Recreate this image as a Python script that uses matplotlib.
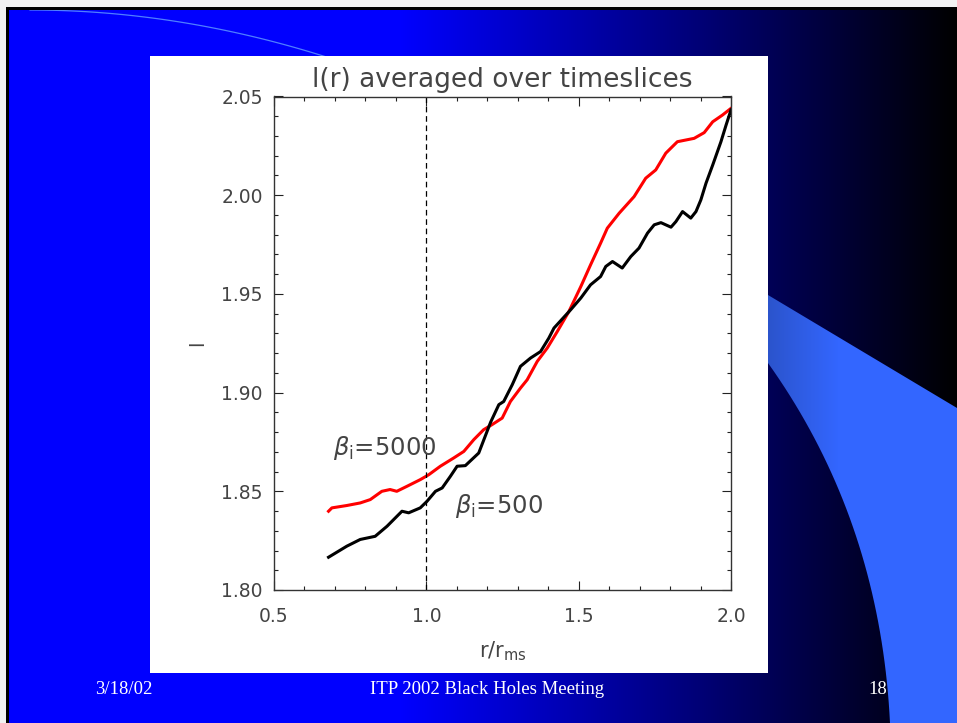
import matplotlib
matplotlib.use('Agg')
import matplotlib.pyplot as plt
import numpy as np
from matplotlib.patches import Rectangle, Polygon
from matplotlib.ticker import MultipleLocator

# data: l(r) for the two runs
r_500 = [0.679, 0.739, 0.783, 0.832, 0.871, 0.920, 0.942, 0.980, 1.002, 1.030,
         1.052, 1.079, 1.101, 1.128, 1.172, 1.211, 1.238, 1.254, 1.282, 1.309,
         1.342, 1.375, 1.402, 1.419, 1.474, 1.507, 1.539, 1.572, 1.589, 1.611,
         1.643, 1.671, 1.698, 1.726, 1.748, 1.770, 1.803, 1.819, 1.841, 1.868,
         1.885, 1.901, 1.918, 1.940, 1.967, 1.984, 2.000]
l_500 = [1.8166, 1.8222, 1.8256, 1.8272, 1.8323, 1.8399, 1.8391, 1.8416, 1.8449, 1.8500,
         1.8517, 1.8576, 1.8627, 1.8630, 1.8694, 1.8850, 1.8939, 1.8955, 1.9040, 1.9133,
         1.9175, 1.9208, 1.9276, 1.9327, 1.9420, 1.9479, 1.9546, 1.9588, 1.9639, 1.9664,
         1.9631, 1.9689, 1.9732, 1.9808, 1.9850, 1.9861, 1.9838, 1.9866, 1.9917, 1.9884,
         1.9917, 1.9976, 2.0061, 2.0153, 2.0271, 2.0356, 2.0432]

r_5000 = [0.679, 0.690, 0.739, 0.783, 0.816, 0.854, 0.881, 0.903, 0.936, 0.980,
          1.008, 1.046, 1.090, 1.123, 1.156, 1.188, 1.216, 1.249, 1.276, 1.309,
          1.331, 1.364, 1.397, 1.430, 1.468, 1.507, 1.539, 1.572, 1.594, 1.633,
          1.682, 1.720, 1.753, 1.786, 1.824, 1.879, 1.912, 1.940, 1.972, 2.000]
l_5000 = [1.8399, 1.8416, 1.8428, 1.8441, 1.8458, 1.8500, 1.8509, 1.8500, 1.8525, 1.8559,
          1.8584, 1.8627, 1.8669, 1.8702, 1.8762, 1.8812, 1.8838, 1.8871, 1.8955, 1.9023,
          1.9065, 1.9158, 1.9226, 1.9310, 1.9411, 1.9537, 1.9647, 1.9757, 1.9833, 1.9909,
          1.9993, 2.0086, 2.0128, 2.0213, 2.0271, 2.0288, 2.0317, 2.0372, 2.0406, 2.0440]

x_ticks = [0.5, 1.0, 1.5, 2.0]
y_ticks = [1.80, 1.85, 1.90, 1.95, 2.00, 2.05]

W, H = 957, 723
fig = plt.figure(figsize=(W / 100, H / 100), dpi=100)

# --- slide background (pixel coordinates) ---
bg = fig.add_axes([0, 0, 1, 1])
bg.set_xlim(0, W)
bg.set_ylim(H, 0)
bg.axis('off')

xs = np.arange(W)
blue = np.clip((W - xs) / (W - 400), 0, 1)
grad = np.zeros((1, W, 3))
grad[0, :, 2] = blue
bg.imshow(grad, extent=[0, W, H, 0], aspect='auto', zorder=0)

# light blue wedge on the right
t = np.linspace(0, 1, 40)
p0, c, p2 = np.array([768, 363]), np.array([880, 520]), np.array([890, 723])
curve = ((1 - t) ** 2)[:, None] * p0 + (2 * (1 - t) * t)[:, None] * c + (t ** 2)[:, None] * p2
wedge_pts = np.vstack([[768, 295], [W, 408], [W, H], curve[::-1]])
wedge = Polygon(wedge_pts, closed=True, facecolor='none', edgecolor='none')
bg.add_patch(wedge)
wg = np.zeros((1, W, 3))
ramp = np.clip((xs - 768) / 70, 0, 1)
wg[0, :, 0] = (0.17 + 0.03 * ramp)
wg[0, :, 1] = (0.33 + 0.07 * ramp)
wg[0, :, 2] = (0.80 + 0.20 * ramp)
im = bg.imshow(wg, extent=[0, W, H, 0], aspect='auto', zorder=1)
im.set_clip_path(wedge)

# thin arc top-left
ax_arc = np.linspace(30, 330, 100)
bg.plot(ax_arc, 10 + 0.000535 * (ax_arc - 30) ** 2, color='#4f7fff', lw=0.9, zorder=2)

# slide frame
bg.add_patch(Rectangle((0, 0), W, 7, facecolor='#f2f2f2', edgecolor='none', zorder=3))
bg.add_patch(Rectangle((0, 0), 6, H, facecolor='#f2f2f2', edgecolor='none', zorder=3))
bg.add_patch(Rectangle((6, 7), W, 3, facecolor='black', edgecolor='none', zorder=3))
bg.add_patch(Rectangle((6, 7), 3, H, facecolor='black', edgecolor='none', zorder=3))

# white panel
bg.add_patch(Rectangle((150, 56), 618, 617, facecolor='white', edgecolor='none', zorder=4))

# footer
foot = dict(color='white', fontsize=13.5, family='Liberation Serif', va='center', zorder=5)
bg.text(124, 690, '3/18/02', ha='center', **foot)
bg.text(487, 690, 'ITP 2002 Black Holes Meeting', ha='center', **foot)
bg.text(878, 690, '18', ha='center', **foot)

# --- the plot ---
ax = fig.add_axes([274 / W, 1 - 590 / H, 457 / W, 493.5 / H])
ax.set_facecolor('white')

tc = '#444444'
ax.plot(r_5000, l_5000, color='red', lw=2.2)
ax.plot(r_500, l_500, color='black', lw=2.2)
ax.axvline(1.0, color='black', lw=0.9, dashes=(4.5, 3))

ax.set_xlim(0.5, 2.0)
ax.set_ylim(1.80, 2.05)
ax.set_xticks(x_ticks)
ax.set_yticks(y_ticks)
ax.set_xticklabels([f'{v:.1f}' for v in x_ticks])
ax.set_yticklabels([f'{v:.2f}' for v in y_ticks])
ax.xaxis.set_minor_locator(MultipleLocator(0.1))
ax.yaxis.set_minor_locator(MultipleLocator(0.01))
ax.tick_params(which='both', direction='in', top=True, right=True, color='#222222', width=0.8)
ax.tick_params(which='major', length=6.5)
ax.tick_params(which='minor', length=3.2)
ax.tick_params(axis='x', which='major', pad=12, labelsize=13.5, labelcolor=tc)
ax.tick_params(axis='y', which='major', pad=8, labelsize=13.5, labelcolor=tc)
for s in ax.spines.values():
    s.set_color('#333333')
    s.set_linewidth(1.0)

ax.set_title('l(r) averaged over timeslices', fontsize=19, color=tc, pad=7)
ax.set_xlabel(r'r/r$_{\rm ms}$', fontsize=15, color=tc, labelpad=10)
ax.set_ylabel('l', fontsize=14, color=tc, labelpad=10)

ax.text(0.694, 1.8721, r'$\beta_{\rm i}$=5000', fontsize=17.5, color=tc, va='center')
ax.text(1.095, 1.8423, r'$\beta_{\rm i}$=500', fontsize=17.5, color=tc, va='center')

fig.savefig('out.png', dpi=100)
